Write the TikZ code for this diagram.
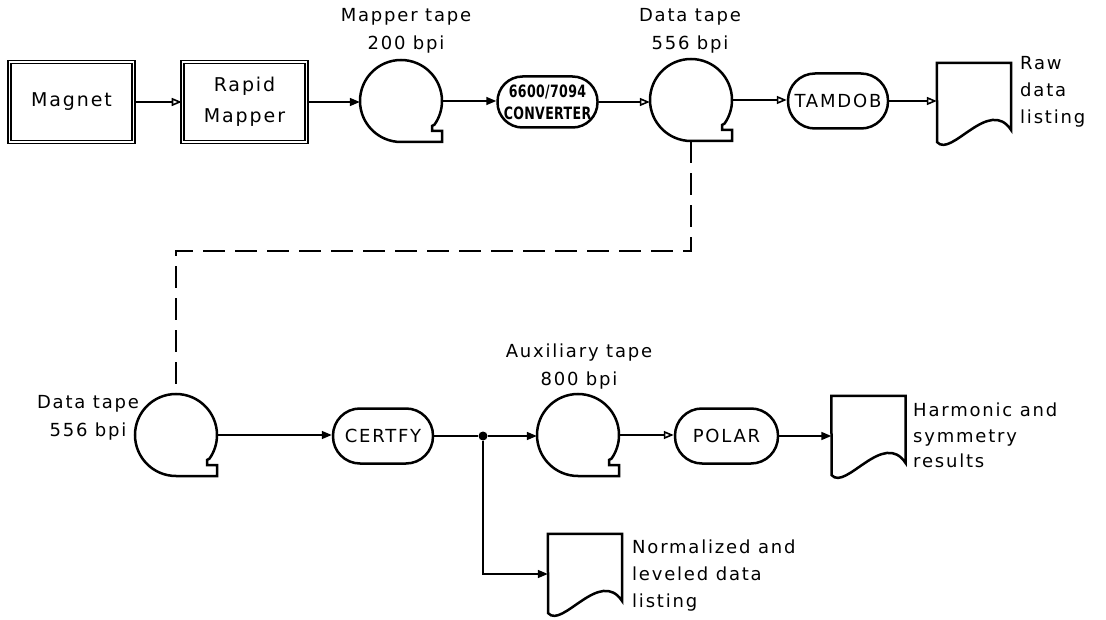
\documentclass[tikz,border=0pt]{standalone}
\usepackage{fontspec}
\setmainfont{DejaVu Sans}[LetterSpace=10]
\newfontfamily\condfont{DejaVu Sans}[FakeStretch=0.74,LetterSpace=2]
\usetikzlibrary{arrows.meta,calc}
\tikzset{
  every node/.style={font=\fontsize{18}{27}\selectfont, inner sep=0pt},
  shapeline/.style={line width=2.5pt},
  boxnode/.style={draw, line width=1.6pt, double, double distance=1.3pt, minimum width=124pt, minimum height=80pt, align=center, font=\fontsize{19}{31}\selectfont},
  procnode/.style={draw, line width=2.5pt, rounded corners=27pt, minimum width=100pt, minimum height=55pt, align=center},
  tapenode/.style={circle, minimum size=82pt},
  docnode/.style={rectangle, minimum width=74pt, minimum height=67pt},
  conn/.style={line width=1.6pt, -{Triangle[length=10pt,width=8pt]}},
  connO/.style={line width=1.6pt, -{Triangle[open,length=10pt,width=8pt]}},
  plainline/.style={line width=1.6pt},
  dashline/.style={line width=1.6pt, dash pattern=on 22pt off 10pt},
  lbl/.style={align=center, font=\fontsize{18}{28}\selectfont},
  doclbl/.style={align=left, anchor=north west},
}
\newcommand\tapeshape[1]{\draw[shapeline] ([shift={(0,41)}]#1.center) arc[start angle=90,end angle=395,radius=41] -- ([shift={(31,25)}]#1.center) -- ([shift={(31,30)}]#1.center) -- ([shift={(41,30)}]#1.center) -- ([shift={(41,41)}]#1.center) -- cycle;}
\newcommand\docshape[1]{\draw[shapeline] (#1.north west) -- (#1.north east) -- (#1.south east) .. controls +(-22,-34) and +(14,16) .. ([shift={(-74,12)}]#1.south east) -- cycle;}
\begin{document}
\begin{tikzpicture}[x=1pt,y=-1pt]
\useasboundingbox (0,0) rectangle (1106,620);
% top row
\node[boxnode] (magnet) at (71.5,102) {Magnet};
\node[boxnode] (rapid) at (244.5,102) {Rapid\\Mapper};
\node[tapenode] (mtape) at (401,101) {};
\tapeshape{mtape}
\node[procnode, rounded corners=25pt, minimum height=51pt, font=\condfont\bfseries\fontsize{17}{22}\selectfont] (conv) at (547.5,102) {6600/7094\\CONVERTER};
\node[tapenode] (dtape) at (691,100) {};
\tapeshape{dtape}
\node[procnode] (tamdob) at (838,101) {TAMDOB};
\node[docnode] (raw) at (974,96.5) {};
\docshape{raw}
% bottom row
\node[tapenode] (ltape) at (176,435) {};
\tapeshape{ltape}
\node[procnode] (certfy) at (383,436) {CERTFY};
\node[circle, fill, minimum size=9pt] (jn) at (483,436) {};
\node[tapenode] (atape) at (578,435) {};
\tapeshape{atape}
\node[procnode, minimum width=103pt] (polar) at (726.5,436) {POLAR};
\node[docnode] (harm) at (868.5,429.5) {};
\docshape{harm}
\node[docnode] (norm) at (585,567.5) {};
\docshape{norm}
% labels
\node[lbl] (mlbl) at (406,31) {Mapper tape\\200 bpi};
\node[lbl] (dlbl) at (690,31) {Data tape\\556 bpi};
\node[lbl] (ldlbl) at (88,418) {Data tape\\556 bpi};
\node[lbl] (albl) at (579,367) {Auxiliary tape\\800 bpi};
\node[doclbl] (rawlbl) at (1020,56) {Raw\\data\\listing};
\node[doclbl, font=\fontsize{18}{25.5}\selectfont] (harmlbl) at (913,403) {Harmonic and\\symmetry\\results};
\node[doclbl] (normlbl) at (632,540) {Normalized and\\leveled data\\listing};
% connectors
\draw[connO] (magnet.east) -- (rapid.west);
\draw[conn] (rapid.east) -- (rapid.east -| mtape.west);
\draw[conn] (mtape.east) -- (mtape.east -| conv.west);
\draw[connO] (conv.east) -- (conv.east -| dtape.west);
\draw[connO] (dtape.east) -- (dtape.east -| tamdob.west);
\draw[connO] (tamdob.east) -- (tamdob.east -| raw.west);
\coordinate (dbend) at (0,251);
\draw[dashline] (dtape.south) |- (ltape.north |- dbend) -- (ltape.north);
\draw[conn] (ltape.east) -- (ltape.east -| certfy.west);
\draw[plainline] (certfy.east) -- (jn);
\draw[conn] (jn) -- (jn -| atape.west);
\draw[connO] (atape.east) -- (atape.east -| polar.west);
\draw[conn] (polar.east) -- (polar.east -| harm.west);
\draw[conn] (jn) |- ($(norm.west)+(0,6.5)$);
\end{tikzpicture}
\end{document}
